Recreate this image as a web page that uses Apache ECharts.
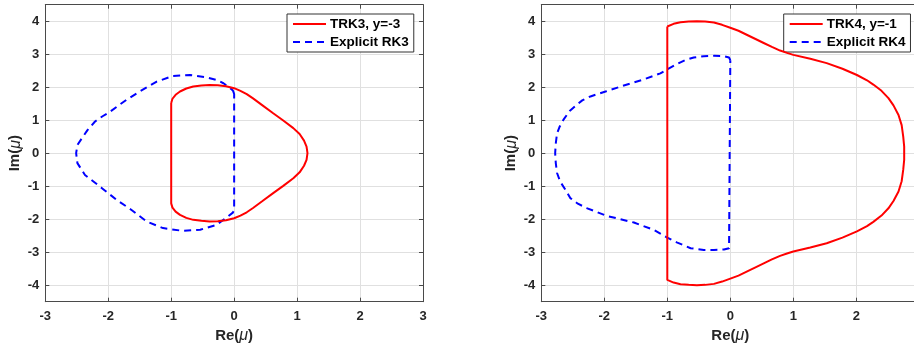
<!DOCTYPE html>
<html>
<head>
<meta charset="utf-8">
<script src="https://cdn.jsdelivr.net/npm/echarts@6/dist/echarts.min.js"></script>
<style>
html,body{margin:0;padding:0;background:#fff;}
#c{width:914px;height:348px;}
</style>
</head>
<body>
<div id="c"></div>
<script>
// ---- data ----
var xTicks = [-3, -2, -1, 0, 1, 2, 3];
var yTicks = [-4, -3, -2, -1, 0, 1, 2, 3, 4];

var trk3Name = 'TRK3, y=-3';
var rk3Name = 'Explicit RK3';
var trk4Name = 'TRK4, y=-1';
var rk4Name = 'Explicit RK4';

var trk3 = [
  [-1.0, 1.52], [-0.98, 1.65], [-0.93, 1.77], [-0.86, 1.87], [-0.76, 1.96], [-0.65, 2.02],
  [-0.52, 2.05], [-0.39, 2.07], [-0.26, 2.06], [-0.13, 2.03], [0.0, 1.97], [0.10, 1.89],
  [0.20, 1.79], [0.30, 1.66], [0.45, 1.45], [0.62, 1.21], [0.78, 0.99], [0.94, 0.76],
  [1.04, 0.58], [1.11, 0.38], [1.15, 0.20], [1.165, 0.0],
  [1.15, -0.20], [1.11, -0.38], [1.04, -0.58], [0.94, -0.76], [0.78, -0.99], [0.62, -1.21],
  [0.45, -1.45], [0.30, -1.66], [0.20, -1.79], [0.10, -1.89], [0.0, -1.97], [-0.13, -2.03],
  [-0.26, -2.06], [-0.39, -2.07], [-0.52, -2.05], [-0.65, -2.02], [-0.76, -1.96], [-0.86, -1.87],
  [-0.93, -1.77], [-0.98, -1.65], [-1.0, -1.52], [-1.0, 1.52]
];

var rk3 = [
  [0.0, 1.80], [-0.02, 1.90], [-0.08, 2.00], [-0.17, 2.12], [-0.28, 2.22], [-0.44, 2.30],
  [-0.70, 2.37], [-0.97, 2.34], [-1.23, 2.17], [-1.50, 1.87], [-1.71, 1.62], [-1.84, 1.44],
  [-1.97, 1.26], [-2.09, 1.12], [-2.21, 0.96], [-2.33, 0.70], [-2.42, 0.45], [-2.49, 0.25],
  [-2.51, 0.0],
  [-2.49, -0.30], [-2.37, -0.66], [-2.22, -0.88], [-2.10, -1.06], [-1.87, -1.41], [-1.63, -1.72],
  [-1.39, -2.07], [-1.13, -2.27], [-0.83, -2.35], [-0.54, -2.32], [-0.28, -2.17], [-0.10, -1.92],
  [-0.02, -1.80], [0.0, -1.72], [0.0, 1.80]
];

var trk4 = [
  [-1.0, 3.84], [-0.90, 3.92], [-0.79, 3.97], [-0.66, 3.99], [-0.53, 4.0], [-0.40, 3.99],
  [-0.26, 3.96], [-0.13, 3.89], [0.0, 3.80], [0.13, 3.71], [0.26, 3.59], [0.40, 3.46],
  [0.53, 3.34], [0.66, 3.22], [0.79, 3.11], [0.90, 3.04], [1.0, 2.98], [1.27, 2.86], [1.53, 2.73],
  [1.78, 2.56], [2.01, 2.37], [2.17, 2.21], [2.27, 2.08], [2.40, 1.89], [2.51, 1.67],
  [2.59, 1.45], [2.67, 1.16], [2.72, 0.85], [2.745, 0.50], [2.76, 0.20], [2.76, 0.0],
  [2.76, -0.20], [2.745, -0.50], [2.72, -0.85], [2.67, -1.16], [2.59, -1.45], [2.51, -1.67],
  [2.40, -1.89], [2.27, -2.08], [2.17, -2.21], [2.01, -2.37], [1.78, -2.56], [1.53, -2.73],
  [1.27, -2.86], [1.0, -2.98], [0.90, -3.04], [0.79, -3.11], [0.66, -3.22], [0.53, -3.34], [0.40, -3.46],
  [0.26, -3.59], [0.13, -3.71], [0.0, -3.80], [-0.13, -3.89], [-0.26, -3.96], [-0.40, -3.99],
  [-0.53, -4.0], [-0.66, -3.99], [-0.79, -3.97], [-0.90, -3.92], [-1.0, -3.84], [-1.0, 3.84]
];

var rk4 = [
  [0.0, 2.82], [-0.02, 2.90], [-0.10, 2.94], [-0.26, 2.95], [-0.42, 2.94], [-0.58, 2.90],
  [-0.72, 2.82], [-0.85, 2.70], [-0.98, 2.56], [-1.11, 2.42], [-1.40, 2.22], [-1.69, 2.05],
  [-1.98, 1.87], [-2.22, 1.72], [-2.35, 1.60], [-2.44, 1.46], [-2.55, 1.28], [-2.65, 1.01],
  [-2.71, 0.80], [-2.75, 0.60], [-2.77, 0.30], [-2.78, 0.0],
  [-2.77, -0.30], [-2.75, -0.60], [-2.70, -0.86], [-2.62, -1.10], [-2.54, -1.36], [-2.42, -1.53],
  [-2.27, -1.67], [-1.96, -1.90], [-1.53, -2.10], [-1.22, -2.32], [-1.01, -2.55], [-0.85, -2.70],
  [-0.63, -2.88], [-0.42, -2.93], [-0.26, -2.93], [-0.10, -2.92], [-0.02, -2.88], [0.0, -2.82],
  [0.0, 2.82]
];

// ---- chart ----
var FONT = '"Liberation Sans", Arial, Helvetica, sans-serif';
var AXC = '#4a4a4a';
var TXT = '#262626';

function nameStyle() {
  return { rich: {
    n: { fontFamily: FONT, fontWeight: 'bold', fontSize: 15, color: TXT },
    m: { fontFamily: FONT, fontStyle: 'italic', fontSize: 16, color: TXT }
  } };
}

function mainX(gi, name) {
  return {
    gridIndex: gi, type: 'value', min: -3, max: 3, interval: 1,
    name: name, nameLocation: 'middle', nameGap: 24,
    nameTextStyle: nameStyle(),
    axisLine: { show: true, onZero: false, lineStyle: { color: AXC, width: 1 } },
    axisTick: { show: true, inside: true, length: 4, lineStyle: { color: AXC } },
    axisLabel: { fontFamily: FONT, fontWeight: 'bold', fontSize: 13, color: TXT, margin: 8 },
    splitLine: { show: true, lineStyle: { color: '#e0e0e0', width: 1 } }
  };
}
function mainY(gi, name) {
  return {
    gridIndex: gi, type: 'value', min: -4.5, max: 4.5,
    name: name, nameLocation: 'middle', nameGap: 22, nameRotate: 90,
    nameTextStyle: nameStyle(),
    axisLine: { show: true, onZero: false, lineStyle: { color: AXC, width: 1 } },
    axisTick: { show: true, inside: true, length: 4, customValues: yTicks, lineStyle: { color: AXC } },
    axisLabel: { fontFamily: FONT, fontWeight: 'bold', fontSize: 13, color: TXT, margin: 6, customValues: yTicks },
    splitLine: { show: true, lineStyle: { color: '#e0e0e0', width: 1 } }
  };
}
function boxX(gi) {
  return {
    gridIndex: gi, type: 'value', min: -3, max: 3, interval: 1, position: 'top',
    axisLine: { show: true, onZero: false, lineStyle: { color: AXC, width: 1 } },
    axisTick: { show: true, inside: true, length: 4, lineStyle: { color: AXC } },
    axisLabel: { show: false }, splitLine: { show: false }
  };
}
function boxY(gi) {
  return {
    gridIndex: gi, type: 'value', min: -4.5, max: 4.5, position: 'right',
    axisLine: { show: true, onZero: false, lineStyle: { color: AXC, width: 1 } },
    axisTick: { show: true, inside: true, length: 4, customValues: yTicks, lineStyle: { color: AXC } },
    axisLabel: { show: false, customValues: yTicks }, splitLine: { show: false }
  };
}

var xName = '{n|Re(}{m|μ}{n|)}';
var yName = '{n|Im(}{m|μ}{n|)}';

function legend(left, names) {
  return {
    data: names, orient: 'vertical', left: left, top: 14,
    padding: [3, 5, 3, 5], itemGap: 4, itemWidth: 33, itemHeight: 14,
    backgroundColor: '#fff', borderColor: '#333', borderWidth: 1,
    itemStyle: { opacity: 0 },
    textStyle: { fontFamily: FONT, fontWeight: 'bold', fontSize: 13.5, color: '#000', padding: [0, 0, 0, -1] },
    selectedMode: false
  };
}

function ser(name, data, xi, yi, color, dashed) {
  return {
    name: name, type: 'line', data: data, xAxisIndex: xi, yAxisIndex: yi,
    symbol: 'none', showSymbol: false, smooth: false, animation: false,
    itemStyle: { color: color },
    lineStyle: { color: color, width: 2, type: dashed ? [7, 5] : 'solid' },
    z: dashed ? 3 : 4
  };
}

var chart = echarts.init(document.getElementById('c'), null, { renderer: 'canvas' });
chart.setOption({
  animation: false,
  backgroundColor: '#fff',
  grid: [
    { left: 45.3, top: 4.7, width: 377.7, height: 297, containLabel: false, outerBoundsMode: 'none' },
    { left: 541.3, top: 4.7, width: 378, height: 297, containLabel: false, outerBoundsMode: 'none' }
  ],
  xAxis: [mainX(0, xName), mainX(1, xName), boxX(0), boxX(1)],
  yAxis: [mainY(0, yName), mainY(1, yName), boxY(0), boxY(1)],
  legend: [legend(287, [trk3Name, rk3Name]), legend(783.7, [trk4Name, rk4Name])],
  series: [
    ser(trk3Name, trk3, 0, 0, '#ff0000', false),
    ser(rk3Name, rk3, 0, 0, '#0000ff', true),
    ser(trk4Name, trk4, 1, 1, '#ff0000', false),
    ser(rk4Name, rk4, 1, 1, '#0000ff', true)
  ]
});
</script>
</body>
</html>
